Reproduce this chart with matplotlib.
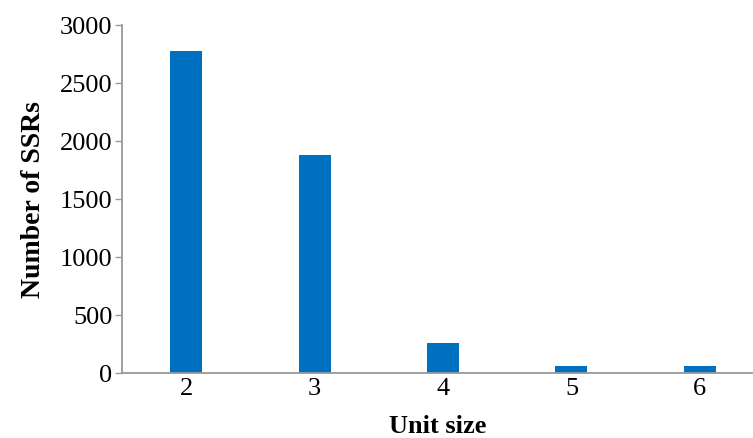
import matplotlib
matplotlib.use("Agg")
import matplotlib.pyplot as plt

categories = ["2", "3", "4", "5", "6"]
values = [2776, 1876, 252, 56, 59]

plt.rcParams['font.family'] = ['Liberation Serif', 'DejaVu Serif']

fig = plt.figure(figsize=(7.53, 4.39), dpi=100)
W, H = 753, 439
ax = fig.add_axes([122 / W, (H - 373.5) / H, (752.5 - 122) / W, (373.5 - 25.7) / H])

x = [int(c) for c in categories]
ax.bar(x, values, width=0.25, color="#0070C0", zorder=2)

ax.set_xlim(1.5, 6.41)
ax.set_ylim(0, 3000)
ax.set_yticks([0, 500, 1000, 1500, 2000, 2500, 3000])
ax.set_xticks(x)
ax.set_xticklabels(categories)

for s in ["top", "right"]:
    ax.spines[s].set_visible(False)
for s in ["left", "bottom"]:
    ax.spines[s].set_color("#999999")
    ax.spines[s].set_linewidth(1.3)

ax.tick_params(axis="y", direction="out", length=5, width=1.0, color="#999999",
               labelsize=19, pad=2)
ax.tick_params(axis="x", length=0, labelsize=19, pad=3)

ax.set_xlabel("Unit size", fontsize=19, fontweight="bold", labelpad=11)
ax.set_ylabel("Number of SSRs", fontsize=20, fontweight="bold", labelpad=10)

fig.savefig("out.png", dpi=100)
